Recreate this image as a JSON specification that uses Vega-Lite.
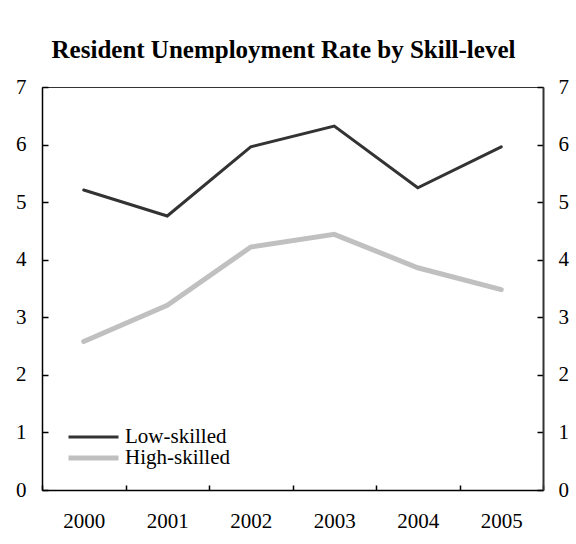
{
  "$schema": "https://vega.github.io/schema/vega-lite/v6.json",
  "width": 501,
  "height": 403,
  "autosize": "none",
  "padding": {"left": 42, "top": 87, "right": 33, "bottom": 54},
  "background": "white",
  "title": {
    "text": "Resident Unemployment Rate by Skill-level",
    "font": "Liberation Serif",
    "fontSize": 25,
    "fontWeight": "bold",
    "color": "black",
    "anchor": "middle",
    "frame": "group",
    "dx": -9,
    "offset": 13
  },
  "data": {
    "values": [
      {"year": "2000", "group": "Low-skilled", "rate": 5.21},
      {"year": "2001", "group": "Low-skilled", "rate": 4.76},
      {"year": "2002", "group": "Low-skilled", "rate": 5.96},
      {"year": "2003", "group": "Low-skilled", "rate": 6.32},
      {"year": "2004", "group": "Low-skilled", "rate": 5.25},
      {"year": "2005", "group": "Low-skilled", "rate": 5.96},
      {"year": "2000", "group": "High-skilled", "rate": 2.58},
      {"year": "2001", "group": "High-skilled", "rate": 3.21},
      {"year": "2002", "group": "High-skilled", "rate": 4.22},
      {"year": "2003", "group": "High-skilled", "rate": 4.44},
      {"year": "2004", "group": "High-skilled", "rate": 3.86},
      {"year": "2005", "group": "High-skilled", "rate": 3.48}
    ]
  },
  "encoding": {
    "x": {
      "field": "year",
      "type": "ordinal",
      "title": null,
      "scale": {"paddingInner": 0, "paddingOuter": 0},
      "axis": {
        "labelAngle": 0,
        "tickBand": "extent",
        "tickSize": -5,
        "labelPadding": 25,
        "domainColor": "black",
        "domainWidth": 1.5,
        "tickColor": "black"
      }
    },
    "y": {
      "field": "rate",
      "type": "quantitative",
      "title": null,
      "scale": {"domain": [0, 7], "nice": false}
    }
  },
  "layer": [
    {
      "mark": {"type": "line", "strokeCap": "round"},
      "encoding": {
        "color": {
          "field": "group",
          "type": "nominal",
          "sort": ["Low-skilled", "High-skilled"],
          "scale": {"domain": ["Low-skilled", "High-skilled"], "range": ["#333333", "#c0c0c0"]},
          "legend": {
            "title": null,
            "orient": "none",
            "legendX": 24,
            "legendY": 343,
            "symbolType": "stroke",
            "symbolSize": 2500,
            "clipHeight": 14,
            "labelFont": "Liberation Serif",
            "labelFontSize": 21,
            "labelColor": "black",
            "labelOffset": 4,
            "rowPadding": 0
          }
        },
        "strokeWidth": {
          "field": "group",
          "type": "nominal",
          "sort": ["Low-skilled", "High-skilled"],
          "scale": {"domain": ["Low-skilled", "High-skilled"], "range": [3, 5]},
          "legend": {
            "title": null,
            "orient": "none",
            "legendX": 24,
            "legendY": 343,
            "symbolType": "stroke",
            "symbolSize": 2500,
            "clipHeight": 14,
            "labelFont": "Liberation Serif",
            "labelFontSize": 21,
            "labelColor": "black",
            "labelOffset": 4,
            "rowPadding": 0
          }
        },
        "y": {
          "field": "rate",
          "type": "quantitative",
          "axis": {
            "orient": "left",
            "values": [0, 1, 2, 3, 4, 5, 6, 7],
            "tickSize": -6,
            "labelPadding": 22,
            "domainColor": "black",
            "domainWidth": 1.5,
            "tickColor": "black"
          }
        }
      }
    },
    {
      "mark": {"type": "point", "opacity": 0},
      "encoding": {
        "y": {
          "field": "rate",
          "type": "quantitative",
          "axis": {
            "orient": "right",
            "values": [0, 1, 2, 3, 4, 5, 6, 7],
            "tickSize": -6,
            "labelPadding": 21,
            "domainColor": "#333333",
            "domainWidth": 2,
            "tickColor": "black"
          }
        }
      }
    }
  ],
  "resolve": {"axis": {"y": "independent"}},
  "config": {
    "view": {"stroke": "#333333", "strokeWidth": 1},
    "axis": {
      "grid": false,
      "labelFont": "Liberation Serif",
      "labelFontSize": 21,
      "labelColor": "black",
      "tickWidth": 1.5
    }
  }
}
